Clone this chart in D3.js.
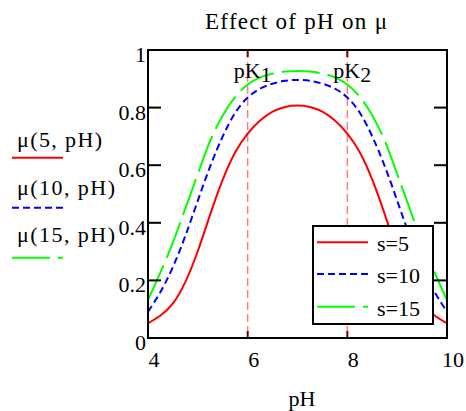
<!DOCTYPE html>
<html><head><meta charset="utf-8">
<script src="https://cdn.jsdelivr.net/npm/d3@7"></script>
<style>body{margin:0;background:#fff}svg{display:block}</style>
</head><body><div id="chart"></div>
<script>
const pH = [4,4.25,4.5,4.75,5,5.25,5.5,5.75,6,6.25,6.5,6.75,7,7.25,7.5,7.75,8,8.25,8.5,8.75,9,9.25,9.5,9.75,10];
const muS5  = [0.051,0.078,0.12,0.195,0.302,0.43,0.55,0.645,0.71,0.755,0.786,0.802,0.807,0.802,0.786,0.755,0.71,0.645,0.55,0.43,0.302,0.195,0.12,0.078,0.051];
const muS10 = [0.091,0.16,0.247,0.355,0.477,0.597,0.70,0.782,0.835,0.866,0.883,0.893,0.896,0.893,0.883,0.866,0.835,0.782,0.70,0.597,0.477,0.355,0.247,0.16,0.091];
const muS15 = [0.132,0.228,0.332,0.45,0.57,0.685,0.773,0.837,0.88,0.905,0.918,0.925,0.927,0.925,0.918,0.905,0.88,0.837,0.773,0.685,0.57,0.45,0.332,0.228,0.132];
const xTicks = [4,6,8,10];
const yTicks = [0,0.2,0.4,0.6,0.8,1];
const pKs = [6,8];
const seriesNames = ["s=5","s=10","s=15"];
const leftLabels = ["μ(5, pH)","μ(10, pH)","μ(15, pH)"];
const colors = ["#ff0000","#0000ff","#00ff00"];
const dashes = [null,"7,4","38,8"];

const W=466,H=411;
const svg=d3.select("#chart").append("svg").attr("width",W).attr("height",H);
const L=148,R=447,T=50,B=338;
const x=d3.scaleLinear().domain([4,10]).range([L,R]);
const y=d3.scaleLinear().domain([0,1]).range([B,T]);
const fs=22;
function txt(size){ return svg.append("text").style("font-family",'"Liberation Serif"').attr("font-size",size||fs).attr("fill","#000"); }

txt(23).attr("x",205).attr("y",29).attr("textLength",182).attr("lengthAdjust","spacing").text("Effect of pH on μ");

svg.append("defs").append("clipPath").attr("id","clip").append("rect").attr("x",L).attr("y",T).attr("width",R-L).attr("height",B-T);

pKs.forEach(v=>{
  svg.append("line").attr("x1",x(v)).attr("x2",x(v)).attr("y1",T).attr("y2",B).attr("stroke","#ff7f7f").attr("stroke-width",1.5).attr("stroke-dasharray","8,4");
  svg.append("line").attr("x1",x(v)).attr("x2",x(v)).attr("y1",T).attr("y2",T+7).attr("stroke","#800000").attr("stroke-width",2);
  svg.append("line").attr("x1",x(v)).attr("x2",x(v)).attr("y1",B).attr("y2",B-7).attr("stroke","#800000").attr("stroke-width",2);
});

const line=d3.line().x((d,i)=>x(pH[i])).y(d=>y(d)).curve(d3.curveNatural);
[muS5,muS10,muS15].forEach((s,i)=>{
  svg.append("path").attr("d",line(s)).attr("fill","none").attr("stroke",colors[i]).attr("stroke-width",2)
    .attr("stroke-dasharray",dashes[i]).attr("clip-path","url(#clip)");
});

pKs.forEach((v,i)=>{
  const t=txt().attr("x",x(v)-14).attr("y",78);
  t.append("tspan").text("pK");
  t.append("tspan").attr("dy",4).text(String(i+1));
});

svg.append("rect").attr("x",L).attr("y",T).attr("width",R-L).attr("height",B-T).attr("fill","none").attr("stroke","#000").attr("stroke-width",2);

yTicks.forEach(v=>{
  if(v>0&&v<1){
    svg.append("line").attr("x1",L).attr("x2",L+13).attr("y1",y(v)).attr("y2",y(v)).attr("stroke","#000").attr("stroke-width",2);
    svg.append("line").attr("x1",R).attr("x2",R-13).attr("y1",y(v)).attr("y2",y(v)).attr("stroke","#000").attr("stroke-width",2);
  }
  txt().attr("x",L-2).attr("y",y(v)+12).attr("text-anchor","end").text(d3.format("")(v));
});
xTicks.forEach(v=>{
  txt().attr("x",x(v)+6).attr("y",367).attr("text-anchor","middle").text(v);
});
txt().attr("x",302).attr("y",406).attr("text-anchor","middle").text("pH");

const ly=[147,195,242], lly=[157.7,207.7,257.7], lw=[85,98,98];
leftLabels.forEach((t,i)=>{
  txt().attr("x",17).attr("y",ly[i]).attr("textLength",lw[i]).attr("lengthAdjust","spacing").text(t);
  svg.append("line").attr("x1",12).attr("x2",63).attr("y1",lly[i]).attr("y2",lly[i]).attr("stroke",colors[i]).attr("stroke-width",2).attr("stroke-dasharray",dashes[i]);
});

svg.append("rect").attr("x",313).attr("y",226).attr("width",120).attr("height",98).attr("fill","#fff").attr("stroke","#000").attr("stroke-width",2);
const by=[242.3,274,306.7];
seriesNames.forEach((t,i)=>{
  svg.append("line").attr("x1",317).attr("x2",368).attr("y1",by[i]).attr("y2",by[i]).attr("stroke",colors[i]).attr("stroke-width",2).attr("stroke-dasharray",dashes[i]);
  txt().attr("x",377).attr("y",by[i]+9).text(t);
});
</script></body></html>
